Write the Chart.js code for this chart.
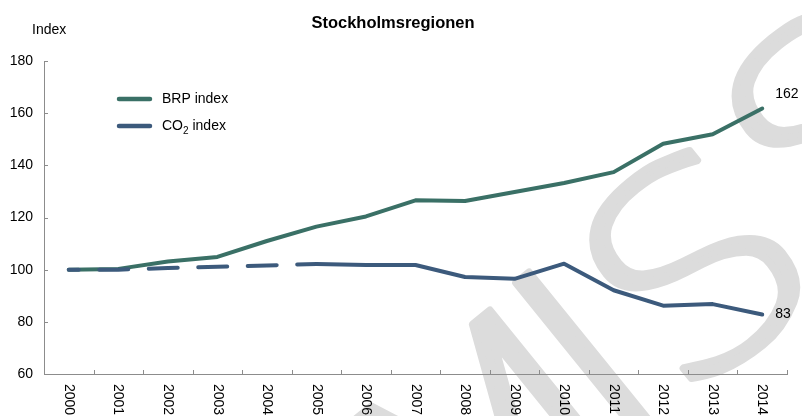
<!DOCTYPE html>
<html>
<head>
<meta charset="utf-8">
<script src="https://cdn.jsdelivr.net/npm/chart.js@4.4.0/dist/chart.umd.min.js"></script>
<style>
  html, body { margin: 0; padding: 0; background: #fff; }
  canvas { display: block; }
</style>
</head>
<body>
<canvas id="myChart" width="802" height="416"></canvas>
<script>
// Data
const years = ['2000', '2001', '2002', '2003', '2004', '2005', '2006', '2007', '2008', '2009', '2010', '2011', '2012', '2013', '2014'];
const brpIndex = [100, 100.3, 103.1, 104.9, 111, 116.5, 120.4, 126.6, 126.3, 129.8, 133.2, 137.4, 148.3, 151.9, 161.8];
const co2Index = [100, 100, 100.6, 101.1, 101.6, 102.2, 101.8, 101.8, 97.2, 96.5, 102.3, 92.1, 86.2, 86.8, 82.8];
const yTicks = [60, 80, 100, 120, 140, 160, 180];
const dashedUntil = 5; // CO2 is dashed from 2000 to 2005

const brpColor = '#3a7066';
const co2Color = '#3c5a7c';
const axisColor = '#8c8c8c';
const font = '"Liberation Sans", Arial, sans-serif';

// glyph stretched a bit wider, ink starting at (left, top)
const stretch = 1.15;
function placeGlyph(ctx, ch, left, top) {
    const m = ctx.measureText(ch);
    ctx.save();
    ctx.translate(left, top);
    ctx.scale(stretch, 1);
    ctx.fillText(ch, m.actualBoundingBoxLeft, m.actualBoundingBoxAscent);
    ctx.strokeText(ch, m.actualBoundingBoxLeft, m.actualBoundingBoxAscent);
    ctx.restore();
}
function inkWidth(ctx, ch) {
    const m = ctx.measureText(ch);
    return (m.actualBoundingBoxLeft + m.actualBoundingBoxRight) * stretch;
}

// grey watermark behind everything
const watermark = {
    id: 'watermark',
    beforeDraw(chart) {
        const ctx = chart.ctx;
        ctx.save();
        ctx.translate(518, 275);
        ctx.rotate(-39 * Math.PI / 180);
        ctx.font = '200 280px "DejaVu Sans"';
        ctx.fillStyle = '#dcdcdc';
        ctx.strokeStyle = '#dcdcdc';
        ctx.lineWidth = 7;
        ctx.lineJoin = 'round';
        ctx.textAlign = 'left';
        ctx.textBaseline = 'alphabetic';
        placeGlyph(ctx, 'M', -44 - inkWidth(ctx, 'M'), 8);
        placeGlyph(ctx, 'I', -inkWidth(ctx, 'I') / 2, 3);
        placeGlyph(ctx, 'S', 66, -5);
        placeGlyph(ctx, 'S', 267, -27);
        ctx.restore();
    }
};

// title, axis title, inward ticks, rotated year labels, legend, end labels
const extras = {
    id: 'extras',
    afterDraw(chart) {
        const ctx = chart.ctx;
        const area = chart.chartArea;
        const x = chart.scales.x;
        const y = chart.scales.y;
        ctx.save();

        ctx.fillStyle = '#000';
        ctx.textBaseline = 'middle';
        ctx.textAlign = 'center';
        ctx.font = 'bold 16.5px ' + font;
        ctx.fillText('Stockholmsregionen', 393, 23);

        ctx.textAlign = 'left';
        ctx.font = '14px ' + font;
        ctx.fillText('Index', 32, 30);

        // tick marks pointing into the plot
        ctx.strokeStyle = axisColor;
        ctx.lineWidth = 1;
        ctx.beginPath();
        yTicks.forEach(v => {
            const py = Math.round(y.getPixelForValue(v)) + 0.5;
            ctx.moveTo(area.left, py);
            ctx.lineTo(area.left + 4, py);
        });
        const step = (area.right - area.left) / years.length;
        for (let i = 1; i <= years.length; i++) {
            const px = Math.round(area.left + i * step) + 0.5;
            ctx.moveTo(px, area.bottom);
            ctx.lineTo(px, area.bottom - 4);
        }
        ctx.stroke();

        // year labels, reading top to bottom
        ctx.font = '14px ' + font;
        ctx.fillStyle = '#000';
        ctx.textAlign = 'left';
        ctx.textBaseline = 'middle';
        years.forEach((yr, i) => {
            ctx.save();
            ctx.translate(x.getPixelForValue(i), area.bottom + 10);
            ctx.rotate(Math.PI / 2);
            ctx.fillText(yr, 0, 0);
            ctx.restore();
        });

        // legend
        ctx.lineCap = 'round';
        ctx.lineWidth = 4.5;
        ctx.strokeStyle = brpColor;
        ctx.beginPath();
        ctx.moveTo(119, 99);
        ctx.lineTo(150, 99);
        ctx.stroke();
        ctx.strokeStyle = co2Color;
        ctx.beginPath();
        ctx.moveTo(119, 126);
        ctx.lineTo(150, 126);
        ctx.stroke();

        ctx.fillStyle = '#000';
        ctx.font = '14px ' + font;
        ctx.fillText('BRP index', 162, 99);
        ctx.fillText('CO', 162, 126);
        const wCO = ctx.measureText('CO').width;
        ctx.font = '10px ' + font;
        ctx.fillText('2', 162 + wCO, 131);
        const w2 = ctx.measureText('2').width;
        ctx.font = '14px ' + font;
        ctx.fillText(' index', 162 + wCO + w2, 126);

        // end value labels
        const last = years.length - 1;
        const brpPt = chart.getDatasetMeta(0).data[last];
        const co2Pt = chart.getDatasetMeta(1).data[last];
        ctx.fillText(String(Math.round(brpIndex[last])), brpPt.x + 13, brpPt.y - 14);
        ctx.fillText(String(Math.round(co2Index[last])), co2Pt.x + 13, co2Pt.y);

        ctx.restore();
    }
};

const ctx = document.querySelector('#myChart').getContext('2d');
const myChart = new Chart(ctx, {
    type: 'line',
    data: {
        labels: years,
        datasets: [{
            label: 'BRP index',
            data: brpIndex,
            borderColor: brpColor,
            borderWidth: 4,
            pointRadius: 0,
            tension: 0,
            borderCapStyle: 'round',
            borderJoinStyle: 'round',
            order: 1
        }, {
            label: 'CO2 index',
            data: co2Index,
            borderColor: co2Color,
            borderWidth: 4,
            pointRadius: 0,
            tension: 0,
            borderCapStyle: 'round',
            borderJoinStyle: 'round',
            order: 0,
            segment: {
                borderDash: c => c.p0DataIndex < dashedUntil ? [29, 20.5] : undefined,
                borderDashOffset: c => c.p0DataIndex < dashedUntil ? 19 : 0
            }
        }]
    },
    options: {
        responsive: false,
        animation: false,
        devicePixelRatio: 1,
        layout: {
            padding: { top: 61, right: 15, bottom: 42, left: 0 }
        },
        plugins: {
            legend: { display: false },
            tooltip: { enabled: false },
            title: { display: false }
        },
        scales: {
            x: {
                offset: true,
                grid: { display: false, drawTicks: false },
                border: { display: true, color: axisColor, width: 1 },
                ticks: { display: false },
                afterFit: scale => { scale.height = 0; }
            },
            y: {
                min: 60,
                max: 180,
                grid: { display: false, drawTicks: false },
                border: { display: true, color: axisColor, width: 1 },
                afterBuildTicks: scale => {
                    scale.ticks = yTicks.map(v => ({ value: v }));
                },
                ticks: {
                    color: '#000',
                    padding: 11,
                    font: { family: font, size: 14 }
                },
                afterFit: scale => { scale.width = 44; }
            }
        }
    },
    plugins: [watermark, extras]
});
</script>
</body>
</html>
